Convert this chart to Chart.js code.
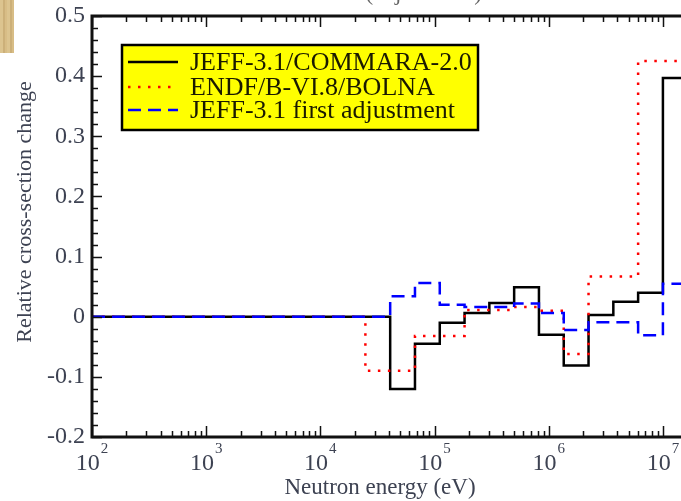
<!DOCTYPE html>
<html>
<head>
<meta charset="utf-8">
<script src="https://cdn.jsdelivr.net/npm/chart.js@4.4.1/dist/chart.umd.min.js"></script>
<style>
  html, body { margin: 0; padding: 0; background: #fff; overflow: hidden; }
  #wrap { position: relative; width: 681px; height: 501px; }
  #chart { position: absolute; left: 0; top: 0; }
  #patch {
    position: absolute; left: 0; top: 0; width: 14px; height: 53px;
    background: repeating-linear-gradient(90deg, #dcc48f 0 3px, #ccb079 3px 5px, #d8bd86 5px 7px);
  }
</style>
</head>
<body>
<div id="wrap">
  <canvas id="chart" width="681" height="501"></canvas>
  <div id="patch"></div>
</div>
<script>
// 33-group energy boundaries (eV) used by all three curves, lower edges + final upper edge
const groupBounds = [1e2, 2.4788e4, 4.0868e4, 6.7379e4, 1.1109e5, 1.8316e5, 3.0197e5,
  4.9787e5, 8.2085e5, 1.3534e6, 2.2313e6, 3.6788e6, 6.0653e6, 1.0e7, 1.9640e7];

// relative change per group
const commaraValues = [0, 0, -0.12, -0.045, -0.01, 0.006, 0.023, 0.049, -0.03, -0.081, 0.003, 0.025, 0.04, 0.397];
const bolnaValues   = [0, -0.09, -0.09, -0.032, -0.032, 0.011, 0.011, 0.016, 0.01, -0.062, 0.067, 0.067, 0.425, 0.425];
const adjustValues  = [0, 0, 0.034, 0.056, 0.02, 0.016, 0.016, 0.022, 0.006, -0.022, -0.009, -0.009, -0.031, 0.055];

const seriesNames = ['JEFF-3.1/COMMARA-2.0', 'ENDF/B-VI.8/BOLNA', 'JEFF-3.1 first adjustment'];
const xTickValues = [1e2, 1e3, 1e4, 1e5, 1e6, 1e7];
const yTickValues = [-0.2, -0.1, 0, 0.1, 0.2, 0.3, 0.4, 0.5];

const X_MIN = 1e2, X_MAX = 1.44e7;
const SERIF = '"Liberation Serif", "Times New Roman", serif';
const TEXT = '#3d4252';

// step series: one point per group lower edge, plus the closing upper edge
function steps(values) {
  const pts = values.map((v, i) => ({ x: groupBounds[i], y: v }));
  pts.push({ x: groupBounds[groupBounds.length - 1], y: values[values.length - 1] });
  return pts;
}

const styles = [
  { color: '#000000', dash: [] },
  { color: '#ff0000', dash: [2.5, 7.5] },
  { color: '#0000ff', dash: [13, 7] },
];

// frame, inward ticks, axis labels, legend box
const framePlugin = {
  id: 'frame',
  afterDraw(chart) {
    const ctx = chart.ctx;
    const { left, right, top, bottom } = chart.chartArea;
    const xs = chart.scales.x, ys = chart.scales.y;
    ctx.save();

    // axes frame (right side runs off the canvas)
    ctx.strokeStyle = '#111';
    ctx.lineWidth = 3;
    ctx.beginPath();
    ctx.moveTo(right + 5, top); ctx.lineTo(left, top); ctx.lineTo(left, bottom); ctx.lineTo(right + 5, bottom);
    ctx.stroke();

    // x ticks on bottom and top
    ctx.lineWidth = 1.5;
    ctx.beginPath();
    for (let d = 2; d <= 7; d++) {
      for (let k = 1; k <= 9; k++) {
        const v = k * Math.pow(10, d);
        if (v < X_MIN || v > X_MAX) continue;
        const px = Math.round(xs.getPixelForValue(v)) + 0.5;
        const len = k === 1 ? 11 : 6;
        ctx.moveTo(px, bottom); ctx.lineTo(px, bottom - len);
        ctx.moveTo(px, top); ctx.lineTo(px, top + len);
      }
    }
    // y ticks on the left
    for (let i = 0; i <= 35; i++) {
      const v = -0.2 + i * 0.02;
      const py = Math.round(ys.getPixelForValue(v)) + 0.5;
      const len = i % 5 === 0 ? 10 : 6;
      ctx.moveTo(left, py); ctx.lineTo(left + len, py);
    }
    ctx.stroke();

    // x tick labels with superscript exponents
    ctx.fillStyle = TEXT;
    ctx.textBaseline = 'alphabetic';
    ctx.textAlign = 'left';
    xTickValues.forEach(v => {
      const px = xs.getPixelForValue(v);
      const exp = String(Math.round(Math.log10(v)));
      ctx.font = '24px ' + SERIF;
      const wBase = ctx.measureText('10').width;
      ctx.font = '15px ' + SERIF;
      const wExp = ctx.measureText(exp).width;
      const x0 = px - (wBase + wExp + 1) / 2;
      ctx.font = '24px ' + SERIF;
      ctx.fillText('10', x0, 470);
      ctx.font = '15px ' + SERIF;
      ctx.fillText(exp, x0 + wBase + 1, 453);
    });

    // axis titles
    ctx.textAlign = 'center';
    ctx.textBaseline = 'middle';
    ctx.font = '23px ' + SERIF;
    ctx.fillText('Neutron energy (eV)', 380, 488);
    ctx.save();
    ctx.translate(25, 212);
    ctx.rotate(-Math.PI / 2);
    ctx.font = '22px ' + SERIF;
    ctx.fillText('Relative cross-section change', 0, 0);
    ctx.restore();

    // plot title, mostly above the visible area
    ctx.fillStyle = '#666';
    ctx.textBaseline = 'alphabetic';
    ctx.font = '23px ' + SERIF;
    ctx.fillText('Fe-56 (adjustment)', 394, 0);

    // legend
    ctx.fillStyle = '#ffff00';
    ctx.fillRect(122, 45, 356, 85);
    ctx.strokeStyle = '#000';
    ctx.lineWidth = 2.5;
    ctx.strokeRect(122, 45, 356, 85);
    const rows = [62, 87, 110];
    seriesNames.forEach((name, i) => {
      ctx.strokeStyle = styles[i].color;
      ctx.setLineDash(styles[i].dash);
      ctx.lineWidth = 2.5;
      ctx.beginPath();
      ctx.moveTo(128, rows[i]); ctx.lineTo(178, rows[i]);
      ctx.stroke();
      ctx.setLineDash([]);
      ctx.fillStyle = '#1a1a00';
      ctx.textAlign = 'left';
      ctx.textBaseline = 'middle';
      ctx.font = '26px ' + SERIF;
      ctx.fillText(name, 190, rows[i] + 1);
    });

    ctx.restore();
  }
};

const seriesValues = [commaraValues, bolnaValues, adjustValues];

new Chart(document.getElementById('chart'), {
  type: 'line',
  data: {
    datasets: seriesNames.map((name, i) => ({
      label: name,
      data: steps(seriesValues[i]),
      borderColor: styles[i].color,
      borderDash: styles[i].dash,
      borderWidth: 2.5,
      pointRadius: 0,
      fill: false,
      stepped: 'before',
      order: 3 - i,
    }))
  },
  options: {
    responsive: false,
    animation: false,
    devicePixelRatio: 1,
    layout: { padding: { top: 16, right: 0, bottom: 0, left: 0 } },
    plugins: { legend: { display: false }, tooltip: { enabled: false } },
    scales: {
      x: {
        type: 'logarithmic',
        min: X_MIN,
        max: X_MAX,
        grid: { display: false, drawTicks: false },
        border: { display: false },
        ticks: { display: false },
        afterFit: s => { s.height = 64; },
      },
      y: {
        type: 'linear',
        min: -0.2,
        max: 0.5,
        grid: { display: false, drawTicks: false },
        border: { display: false },
        afterBuildTicks: s => { s.ticks = yTickValues.map(v => ({ value: v })); },
        ticks: {
          padding: 7,
          color: TEXT,
          font: { family: SERIF, size: 24, lineHeight: 1 },
          callback: v => Math.abs(v) < 1e-9 ? '0' : v.toFixed(1),
        },
        afterFit: s => { s.width = 92; s.paddingTop = 0; s.paddingBottom = 0; },
      }
    }
  },
  plugins: [framePlugin]
});
</script>
</body>
</html>
